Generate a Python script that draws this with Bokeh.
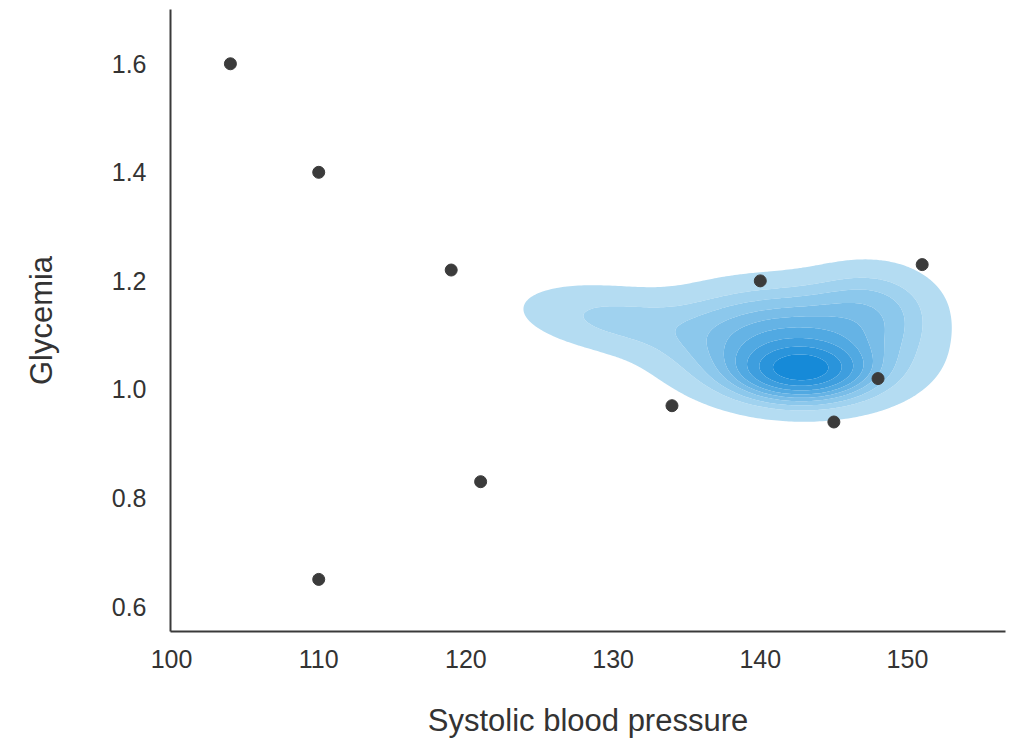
import numpy as np
from bokeh.plotting import figure
from bokeh.embed import file_html
from bokeh.resources import INLINE
from bokeh.models import FixedTicker, Range1d

# Scatter data
systolic = [104, 110, 119, 121, 110, 134, 140, 145, 148, 151]
glycemia = [1.60, 1.40, 1.22, 0.83, 0.65, 0.97, 1.20, 0.94, 1.02, 1.23]

# Density estimate (read from the picture as a mixture of components)
comp_x = [142.8, 142.0, 130.0, 147.5]
comp_y = [1.035, 1.08, 1.13, 1.15]
comp_sx = [2.5, 4.6, 4.0, 2.8]
comp_sy = [0.03, 0.06, 0.04, 0.05]
comp_rho = [0.0, -0.1, -0.3, 0.0]
comp_w = [1.0, 2.0, 0.28, 0.35]

x_ticks = [100, 110, 120, 130, 140, 150]
y_ticks = [0.6, 0.8, 1.0, 1.2, 1.4, 1.6]

band_colors = []
light = np.array([180, 220, 242])
dark = np.array([22, 138, 216])
for i in range(9):
    c = light + (dark - light) * i / 8
    band_colors.append("#%02x%02x%02x" % tuple(int(round(v)) for v in c))

gx = np.linspace(112, 162, 260)
gy = np.linspace(0.80, 1.40, 260)
X, Y = np.meshgrid(gx, gy)
Z = np.zeros_like(X)
for mx, my, sx, sy, r, w in zip(comp_x, comp_y, comp_sx, comp_sy, comp_rho, comp_w):
    dx = (X - mx) / sx
    dy = (Y - my) / sy
    q = (dx * dx - 2 * r * dx * dy + dy * dy) / (1 - r * r)
    Z += w * np.exp(-0.5 * q) / (2 * np.pi * sx * sy * np.sqrt(1 - r * r))

props = np.linspace(0.05, 1, 10)
vals = np.sort(Z.ravel())[::-1]
cum = np.cumsum(vals) / vals.sum()
idx = np.searchsorted(cum, 1 - props)
levels = np.take(vals, idx, mode="clip")
levels = np.sort(levels)
levels[-1] = Z.max() * 1.0001

p = figure(width=1018, height=746, output_backend="svg", toolbar_location=None,
           x_range=Range1d(99.93, 156.66), y_range=Range1d(0.554, 1.700),
           min_border_left=170, min_border_right=13, min_border_top=9,
           min_border_bottom=115)
p.outline_line_color = None
p.grid.visible = False
p.background_fill_color = "white"
p.border_fill_color = "white"

p.contour(gx, gy, Z, levels=list(levels), fill_color=band_colors, line_color=None)

p.scatter(systolic, glycemia, size=12, color="#3b3b3b", line_color="#3b3b3b")

for ax in (p.xaxis[0], p.yaxis[0]):
    ax.axis_line_color = "#3a3a3a"
    ax.axis_line_width = 2
    ax.major_tick_line_color = None
    ax.minor_tick_line_color = None
    ax.major_label_text_font = "Liberation Sans"
    ax.major_label_text_font_size = "25px"
    ax.major_label_text_color = "#333333"
    ax.axis_label_text_font = "Liberation Sans"
    ax.axis_label_text_font_size = "31px"
    ax.axis_label_text_font_style = "normal"
    ax.axis_label_text_color = "#333333"

p.xaxis.ticker = FixedTicker(ticks=x_ticks)
p.yaxis.ticker = FixedTicker(ticks=y_ticks)
p.yaxis.major_label_overrides = {t: "%.1f" % t for t in y_ticks}
p.xaxis.axis_label = "Systolic blood pressure"
p.yaxis.axis_label = "Glycemia"
p.xaxis.major_label_standoff = 12
p.yaxis.major_label_standoff = 18
p.xaxis.axis_label_standoff = 32
p.yaxis.axis_label_standoff = 50

open("out.html", "w").write(file_html(p, INLINE))
